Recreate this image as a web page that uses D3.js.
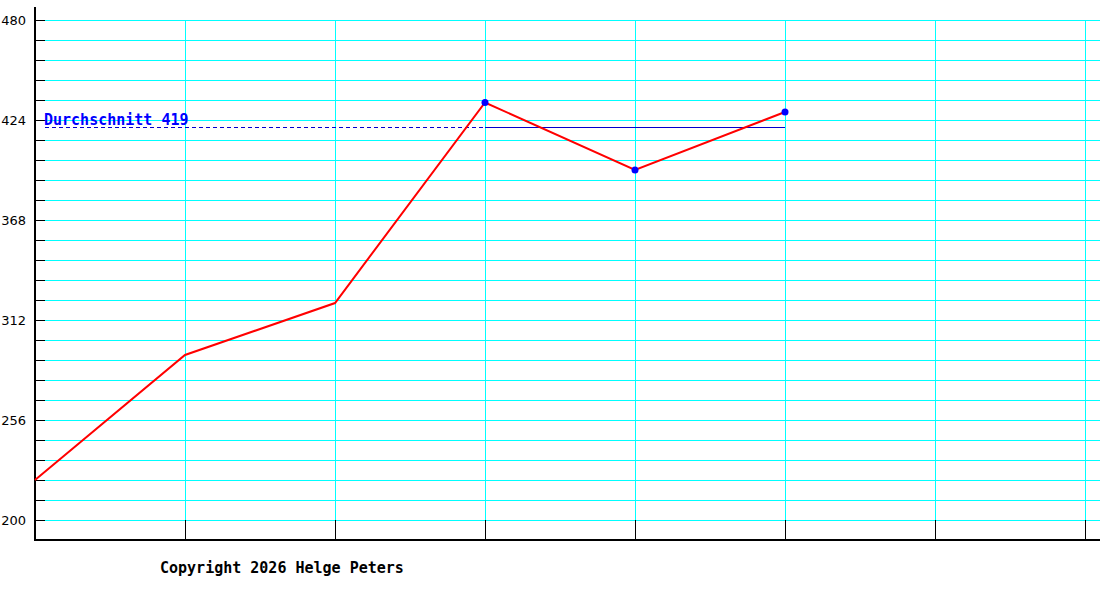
<!DOCTYPE html>
<html>
<head>
<meta charset="utf-8">
<script src="https://cdn.jsdelivr.net/npm/d3@7"></script>
<style>
  body { margin: 0; background: #fff; }
  svg { display: block; }
  .crisp line { shape-rendering: crispEdges; }
</style>
</head>
<body>
<svg id="chart"></svg>
<script>
'use strict';

const width = 1100;
const height = 600;

// values
const values = [222.4, 292.4, 321.5, 433.8, 396, 428.5];
const markedFrom = 3; // points with a blue dot, used for the average
const yTickLabels = [200, 256, 312, 368, 424, 480];
const copyright = 'Copyright 2026 Helge Peters';
const avgLabel = 'Durchschnitt';

const svg = d3.select('#chart')
    .attr('width', width)
    .attr('height', height);

const x = d3.scaleLinear().domain([0, 7]).range([35, 1085]);
const y = d3.scaleLinear().domain([200, 480]).range([520, 20]);

const minorTicks = d3.range(0, 26).map(i => 200 + i * 11.2);
const xTicks = d3.range(1, 8);
const px = v => Math.round(v) + 0.5;

const grid = svg.append('g').attr('class', 'crisp');

// horizontal grid
grid.append('g')
    .selectAll('line')
    .data(minorTicks)
    .enter().append('line')
    .attr('x1', 45).attr('x2', width)
    .attr('y1', d => px(y(d))).attr('y2', d => px(y(d)))
    .attr('stroke', '#00ffff')
    .attr('stroke-width', 1);

// vertical grid
grid.append('g')
    .selectAll('line')
    .data(xTicks)
    .enter().append('line')
    .attr('x1', d => px(x(d))).attr('x2', d => px(x(d)))
    .attr('y1', y(480)).attr('y2', y(200))
    .attr('stroke', '#00ffff')
    .attr('stroke-width', 1);

// left ticks
grid.append('g')
    .selectAll('line')
    .data(minorTicks)
    .enter().append('line')
    .attr('x1', 35).attr('x2', 45)
    .attr('y1', d => px(y(d))).attr('y2', d => px(y(d)))
    .attr('stroke', '#000')
    .attr('stroke-width', 1);

// bottom ticks
grid.append('g')
    .selectAll('line')
    .data(xTicks)
    .enter().append('line')
    .attr('x1', d => px(x(d))).attr('x2', d => px(x(d)))
    .attr('y1', y(200)).attr('y2', 540)
    .attr('stroke', '#000')
    .attr('stroke-width', 1);

// axes
grid.append('line')
    .attr('x1', 35).attr('x2', 35).attr('y1', 7).attr('y2', 541)
    .attr('stroke', '#000').attr('stroke-width', 2);
grid.append('line')
    .attr('x1', 34).attr('x2', width).attr('y1', 540).attr('y2', 540)
    .attr('stroke', '#000').attr('stroke-width', 2);

// y labels
svg.append('g')
    .selectAll('text')
    .data(yTickLabels)
    .enter().append('text')
    .attr('x', 26)
    .attr('y', d => y(d) + 5)
    .attr('text-anchor', 'end')
    .attr('font-family', 'DejaVu Sans, sans-serif')
    .attr('font-size', 13)
    .attr('fill', '#000')
    .text(d => d);

// average of the marked points
const marked = values.slice(markedFrom);
const avg = d3.mean(marked);
const avgY = Math.floor(y(avg)) - 0.5;

const avgLines = svg.append('g').attr('class', 'crisp');
avgLines.append('line')
    .attr('x1', 45).attr('x2', x(markedFrom))
    .attr('y1', avgY).attr('y2', avgY)
    .attr('stroke', '#0000cc')
    .attr('stroke-width', 1)
    .attr('stroke-dasharray', '4,3');
avgLines.append('line')
    .attr('x1', x(markedFrom)).attr('x2', x(values.length - 1))
    .attr('y1', avgY).attr('y2', avgY)
    .attr('stroke', '#0000cc')
    .attr('stroke-width', 1);

svg.append('text')
    .attr('x', 44)
    .attr('y', avgY - 3)
    .attr('font-family', 'DejaVu Sans Mono, monospace')
    .attr('font-weight', 'bold')
    .attr('font-size', 15)
    .attr('fill', '#0000ff')
    .text(avgLabel + ' ' + Math.floor(avg));

// data line
const line = d3.line()
    .x((d, i) => x(i))
    .y(d => y(d));

svg.append('path')
    .datum(values)
    .attr('fill', 'none')
    .attr('stroke', '#ff0000')
    .attr('stroke-width', 2)
    .attr('d', line);

svg.append('g')
    .selectAll('circle')
    .data(marked)
    .enter().append('circle')
    .attr('cx', (d, i) => x(i + markedFrom))
    .attr('cy', d => y(d))
    .attr('r', 3.5)
    .attr('fill', '#0000ff');

// footer
svg.append('text')
    .attr('x', 160)
    .attr('y', 573)
    .attr('font-family', 'DejaVu Sans Mono, monospace')
    .attr('font-weight', 'bold')
    .attr('font-size', 15)
    .attr('fill', '#000')
    .text(copyright);
</script>
</body>
</html>
